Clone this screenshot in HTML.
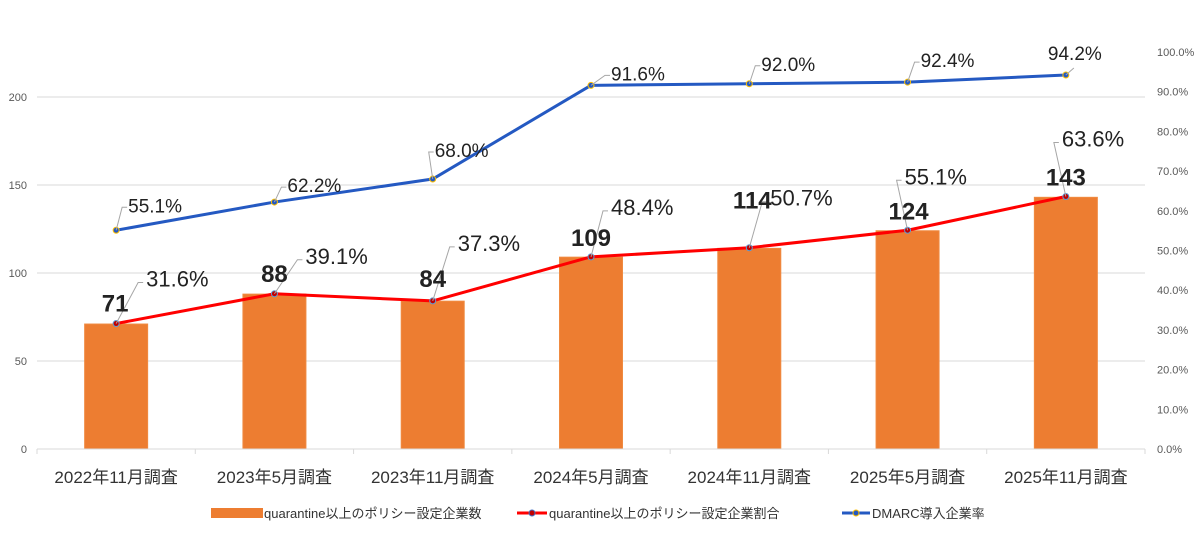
<!DOCTYPE html>
<html><head><meta charset="utf-8">
<style>
body{margin:0;background:#fff;}
svg{display:block;font-family:"Liberation Sans","Noto Sans CJK JP",sans-serif;}
</style></head>
<body>
<svg id="chart" width="1200" height="533" viewBox="0 0 1200 533" xmlns="http://www.w3.org/2000/svg">
<g id="grid"></g><g id="bars"></g><g id="lines"></g><g id="labels"></g><g id="axes"></g>
<g id="legend">
 <g>
  <rect x="211" y="508" width="52" height="10" fill="#ED7D31"/>
  <text x="264" y="518" font-size="13" fill="#333">quarantine以上のポリシー設定企業数</text>
 </g>
 <g>
  <line x1="517" y1="513" x2="547" y2="513" stroke="#FF0000" stroke-width="3"/>
  <circle cx="532" cy="513" r="3" fill="#C00000" stroke="#4472C4" stroke-width="1"/>
  <text x="549" y="518" font-size="13" fill="#333">quarantine以上のポリシー設定企業割合</text>
 </g>
 <g>
  <line x1="842" y1="513" x2="870" y2="513" stroke="#2459C2" stroke-width="3"/>
  <circle cx="856" cy="513" r="3" fill="#2459C2" stroke="#FFC000" stroke-width="1"/>
  <text x="872" y="518" font-size="13" fill="#333">DMARC導入企業率</text>
 </g>
</g>
</svg>
<script>
const categories=["2022年11月調査","2023年5月調査","2023年11月調査","2024年5月調査","2024年11月調査","2025年5月調査","2025年11月調査"];
const counts=[71,88,84,109,114,124,143];
const ratio=[31.6,39.1,37.3,48.4,50.7,55.1,63.6];
const dmarc=[55.1,62.2,68.0,91.6,92.0,92.4,94.2];
const leftTicks=[0,50,100,150,200];
const rightTicks=[0,10,20,30,40,50,60,70,80,90,100];

const NS="http://www.w3.org/2000/svg";
const X0=37,X1=1145,Y0=449;
const band=(X1-X0)/categories.length;
const xc=i=>X0+band*(i+0.5);
const yL=v=>Y0-v*1.76;
const yR=p=>Y0-p*3.97;
function mk(tag,attrs,parent,txt){const e=document.createElementNS(NS,tag);for(const k in attrs)e.setAttribute(k,attrs[k]);if(txt!==undefined)e.textContent=txt;parent.appendChild(e);return e;}
const G=id=>document.getElementById(id);

leftTicks.forEach(t=>{
  const y=yL(t);
  if(t>0){const l=mk('line',{x1:X0,x2:X1,y1:y,y2:y,stroke:'#D9D9D9','stroke-width':1},G('grid'));
  
  }
  const tx=mk('text',{x:27,y:y+4,'font-size':11,'text-anchor':'end',fill:'#595959'},G('axes'),String(t));
  
  
});
rightTicks.forEach(t=>{
  const tx=mk('text',{x:1157,y:yR(t)+4,'font-size':11,fill:'#595959'},G('axes'),t.toFixed(1)+'%');
  
  
});
const ax=mk('line',{x1:X0,x2:X1,y1:Y0,y2:Y0,stroke:'#D9D9D9','stroke-width':1},G('axes'));


for(let i=0;i<=categories.length;i++){
  const t=mk('line',{x1:X0+band*i,x2:X0+band*i,y1:Y0,y2:Y0+5,stroke:'#D9D9D9'},G('axes'));
  
  
}
categories.forEach((c,i)=>{
  const t=mk('text',{x:xc(i),y:483,'font-size':17,'text-anchor':'middle',fill:'#333'},G('axes'),c);
  
  
});

counts.forEach((v,i)=>{
  const r=mk('rect',{x:xc(i)-31.5,y:yL(v),width:63,height:Y0-yL(v),fill:'#ED7D31',stroke:'#F08A40','stroke-width':1},G('bars'));
  
  
});

function series(vals,color,mfill,mstroke,name){
  const pts=vals.map((v,i)=>xc(i)+','+yR(v)).join(' ');
  const pl=mk('polyline',{points:pts,fill:'none',stroke:color,'stroke-width':3,'stroke-linejoin':'round'},G('lines'));
  
  
  vals.forEach((v,i)=>{
    const c=mk('circle',{cx:xc(i),cy:yR(v),r:3,fill:mfill,stroke:mstroke,'stroke-width':1},G('lines'));
    
    
  });
}
series(dmarc,'#2459C2','#2459C2','#FFC000','dmarc');
series(ratio,'#FF0000','#C00000','#5B9BD5','ratio');

// label offsets (layout): [dx to label left, dy to label centre]
const dOff=[[12,-25],[13,-17],[2,-29],[20,-12],[12,-20],[13,-22],[9,-22]];
const rOff=[[30,-45],[31,-38],[25,-58],[20,-50],[21,-50],[-3,-54],[-4,-58]];
const cOff=[[-1,-21],[0,-21],[0,-23],[0,-20],[3,-48],[1,-20],[0,-20]];
function leader(x,y,lx,ly){
  const p=mk('polyline',{points:`${x},${y} ${lx-6},${ly} ${lx-1},${ly}`,fill:'none',stroke:'#A6A6A6','stroke-width':1},G('labels'));
  
  
}
dmarc.forEach((v,i)=>{
  const x=xc(i),y=yR(v),[dx,dy]=dOff[i];
  const last=i===dmarc.length-1;
  if(!last)leader(x,y,x+dx,y+dy+2);
  else{const p=mk('line',{x1:x,y1:y,x2:x+8,y2:y-7,stroke:'#A6A6A6','stroke-width':1},G('labels'));
    
    }
  const t=mk('text',{x:last?x+dx:x+dx,y:y+dy+7,'font-size':19,fill:'#222','text-anchor':last?'middle':'start'},G('labels'),v.toFixed(1)+'%');
  
  
});
ratio.forEach((v,i)=>{
  const x=xc(i),y=yR(v),[dx,dy]=rOff[i];
  leader(x,y,x+dx-2,y+dy+4);
  const t=mk('text',{x:x+dx,y:y+dy+8,'font-size':22,fill:'#222'},G('labels'),v.toFixed(1)+'%');
  
  
});
counts.forEach((v,i)=>{
  const x=xc(i)+cOff[i][0],y=yR(ratio[i])+cOff[i][1];
  const t=mk('text',{x:x,y:y+9,'font-size':24,'font-weight':'bold','text-anchor':'middle',fill:'#222'},G('labels'),String(v));
  
  
});
</script>
</body></html>
